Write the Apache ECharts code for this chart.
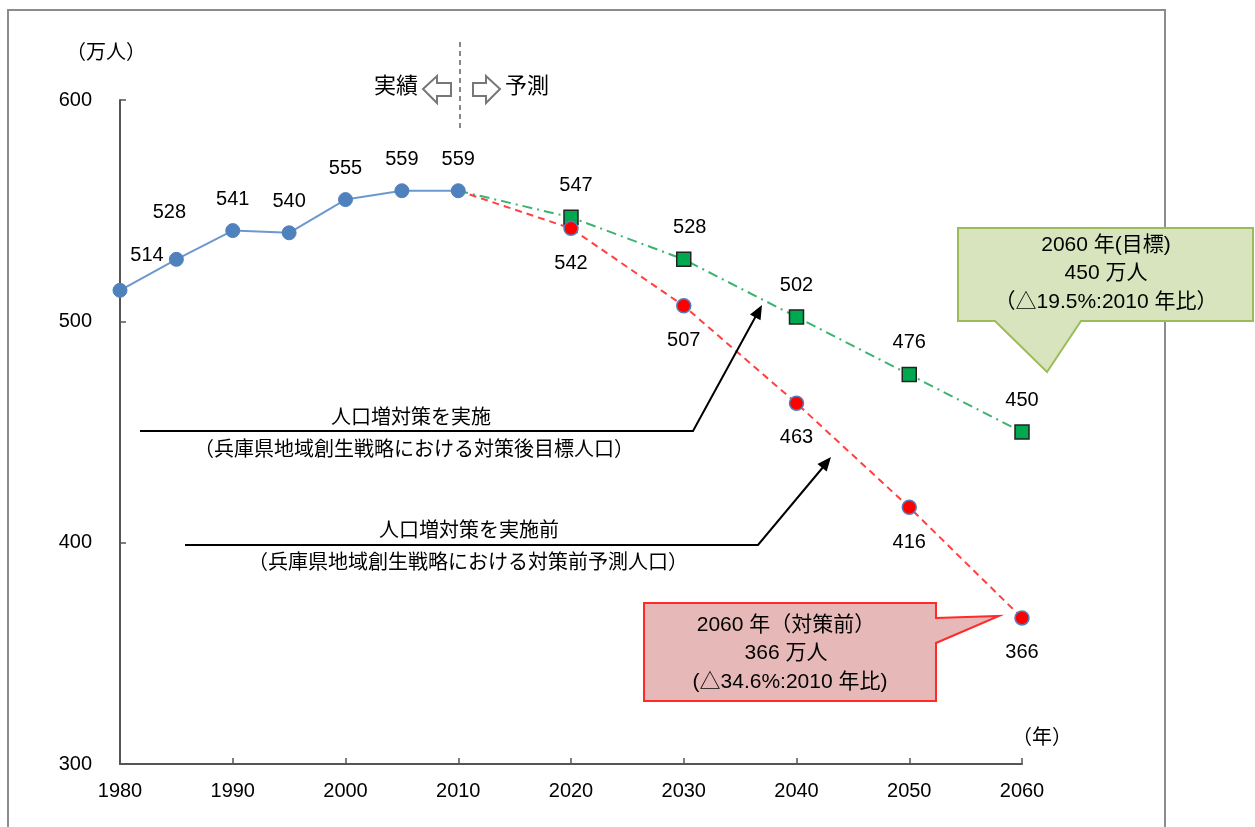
<!DOCTYPE html>
<html><head><meta charset="utf-8">
<script src="https://cdn.jsdelivr.net/npm/echarts@6/dist/echarts.min.js"></script>
<style>html,body{margin:0;padding:0;background:#fff}#c{width:1255px;height:827px}</style>
</head><body><div id="c"></div>
<script>
const actualYears = [1980, 1985, 1990, 1995, 2000, 2005, 2010];
const actualValues = [514, 528, 541, 540, 555, 559, 559];
const forecastYears = [2010, 2020, 2030, 2040, 2050, 2060];
const beforeValues = [559, 542, 507, 463, 416, 366];
const targetValues = [559, 547, 528, 502, 476, 450];

const FONT = "'Liberation Sans', Arial, 'Noto Sans CJK JP', sans-serif";
const JFONT = "'Noto Sans CJK JP', sans-serif";

function pairs(xs, ys, firstHidden) {
  return xs.map((x, i) => {
    if (firstHidden && i === 0) return { value: [x, ys[i]], symbol: 'none', label: { show: false } };
    return { value: [x, ys[i]] };
  });
}
const actualData = pairs(actualYears, actualValues, false);
actualData[0].label = { offset: [27, -3] };
actualData[1].label = { offset: [-7, -15] };
const targetData = pairs(forecastYears, targetValues, true);
targetData[1].label = { offset: [5, 0] };
targetData[2].label = { offset: [6, 0] };
const beforeData = pairs(forecastYears, beforeValues, true);

function arrowHead(tx, ty, fx, fy, len, half) {
  const dx = tx - fx, dy = ty - fy, L = Math.hypot(dx, dy);
  const ux = dx / L, uy = dy / L, px = -uy, py = ux;
  const bx = tx - ux * len, by = ty - uy * len;
  return [[tx, ty], [bx + px * half, by + py * half], [bx - px * half, by - py * half]];
}

const chart = echarts.init(document.getElementById('c'), null, { renderer: 'canvas' });
const txt = (x, y, s, size, fam) => ({
  type: 'text', x: x, y: y, z: 50,
  style: { text: s, fill: '#000', font: size + 'px ' + (fam || FONT), align: 'center', verticalAlign: 'middle' }
});

chart.setOption({
  animation: false,
  grid: { left: 120, right: 233, top: 100, bottom: 63 },
  xAxis: {
    type: 'value', min: 1980, max: 2060, interval: 10,
    axisLine: { lineStyle: { color: '#555', width: 2 } },
    axisTick: { show: true, inside: true, length: 6, lineStyle: { color: '#555', width: 1.5 } },
    axisLabel: { color: '#000', fontSize: 20, fontFamily: FONT, margin: 17, formatter: v => String(v) },
    splitLine: { show: false }
  },
  yAxis: {
    type: 'value', min: 300, max: 600, interval: 100,
    axisLine: { show: true, lineStyle: { color: '#555', width: 2 } },
    axisTick: { show: true, inside: true, length: 6, lineStyle: { color: '#555', width: 1.5 } },
    axisLabel: { color: '#000', fontSize: 20, fontFamily: FONT, margin: 28, formatter: v => String(v) },
    splitLine: { show: false }
  },
  series: [
    {
      name: '対策後目標', type: 'line', data: targetData, z: 3,
      symbol: 'rect', symbolSize: 14,
      itemStyle: { color: '#00a94f', borderColor: '#222', borderWidth: 1.5 },
      lineStyle: { color: '#3cb371', width: 2, type: [10, 5, 2, 5] },
      label: { show: true, position: 'top', distance: 14, color: '#000', fontSize: 20, fontFamily: FONT }
    },
    {
      name: '対策前予測', type: 'line', data: beforeData, z: 4,
      symbol: 'circle', symbolSize: 14,
      itemStyle: { color: '#ff0000', borderColor: '#4f81bd', borderWidth: 1.5 },
      lineStyle: { color: '#ff4040', width: 2, type: [7, 5] },
      label: { show: true, position: 'bottom', distance: 17, color: '#000', fontSize: 20, fontFamily: FONT }
    },
    {
      name: '実績', type: 'line', data: actualData, z: 5,
      symbol: 'circle', symbolSize: 14,
      itemStyle: { color: '#4f81bd', borderColor: '#4f81bd', borderWidth: 1 },
      lineStyle: { color: '#6d98cf', width: 2 },
      label: { show: true, position: 'top', distance: 14, color: '#000', fontSize: 20, fontFamily: FONT }
    }
  ],
  graphic: [
    { type: 'rect', z: 0, shape: { x: 8, y: 10, width: 1157, height: 840 },
      style: { fill: 'none', stroke: '#8c8c8c', lineWidth: 2 } },
    txt(106, 53, '（万人）', 20),
    txt(1042, 738, '（年）', 20),
    { type: 'line', z: 40, shape: { x1: 460, y1: 42, x2: 460, y2: 128 },
      style: { stroke: '#888', lineWidth: 2, lineDash: [5, 4] } },
    txt(396, 87, '実績', 22),
    txt(527, 87, '予測', 22),
    { type: 'polygon', z: 40, shape: { points: [[423, 89], [437, 76], [437, 83], [451, 83], [451, 96], [437, 96], [437, 103]] },
      style: { fill: '#fff', stroke: '#777', lineWidth: 2 } },
    { type: 'polygon', z: 40, shape: { points: [[500, 89], [486, 76], [486, 83], [473, 83], [473, 96], [486, 96], [486, 103]] },
      style: { fill: '#fff', stroke: '#777', lineWidth: 2 } },
    { type: 'polyline', z: 40, shape: { points: [[140, 431], [693, 431], [757, 314]] },
      style: { stroke: '#000', lineWidth: 2, fill: 'none' } },
    { type: 'polygon', z: 40, shape: { points: arrowHead(762, 305, 693, 431, 14, 6) }, style: { fill: '#000' } },
    txt(411, 416, '人口増対策を実施', 20, JFONT),
    txt(414, 448, '（兵庫県地域創生戦略における対策後目標人口）', 20, JFONT),
    { type: 'polyline', z: 40, shape: { points: [[185, 545], [758, 545], [824, 466]] },
      style: { stroke: '#000', lineWidth: 2, fill: 'none' } },
    { type: 'polygon', z: 40, shape: { points: arrowHead(831, 457, 758, 545, 14, 6) }, style: { fill: '#000' } },
    txt(469, 529, '人口増対策を実施前', 20, JFONT),
    txt(468, 561, '（兵庫県地域創生戦略における対策前予測人口）', 20, JFONT),
    { type: 'polygon', z: 45, shape: { points: [[958, 228], [1253, 228], [1253, 321], [1081, 321], [1047, 372], [995, 321], [958, 321]] },
      style: { fill: '#d7e4bd', stroke: '#9bbb59', lineWidth: 2 } },
    txt(1106, 245, '2060 年(目標)', 21),
    txt(1106, 273, '450 万人', 21),
    txt(1106, 302, '（△19.5%:2010 年比）', 21),
    { type: 'polygon', z: 45, shape: { points: [[644, 603], [936, 603], [936, 618], [999, 616], [936, 643], [936, 701], [644, 701]] },
      style: { fill: '#e6b9b8', stroke: '#ff2a2a', lineWidth: 2 } },
    txt(786, 625, '2060 年（対策前）', 21),
    txt(786, 653, '366 万人', 21),
    txt(790, 682, '(△34.6%:2010 年比)', 21)
  ]
});
</script>
</body></html>
